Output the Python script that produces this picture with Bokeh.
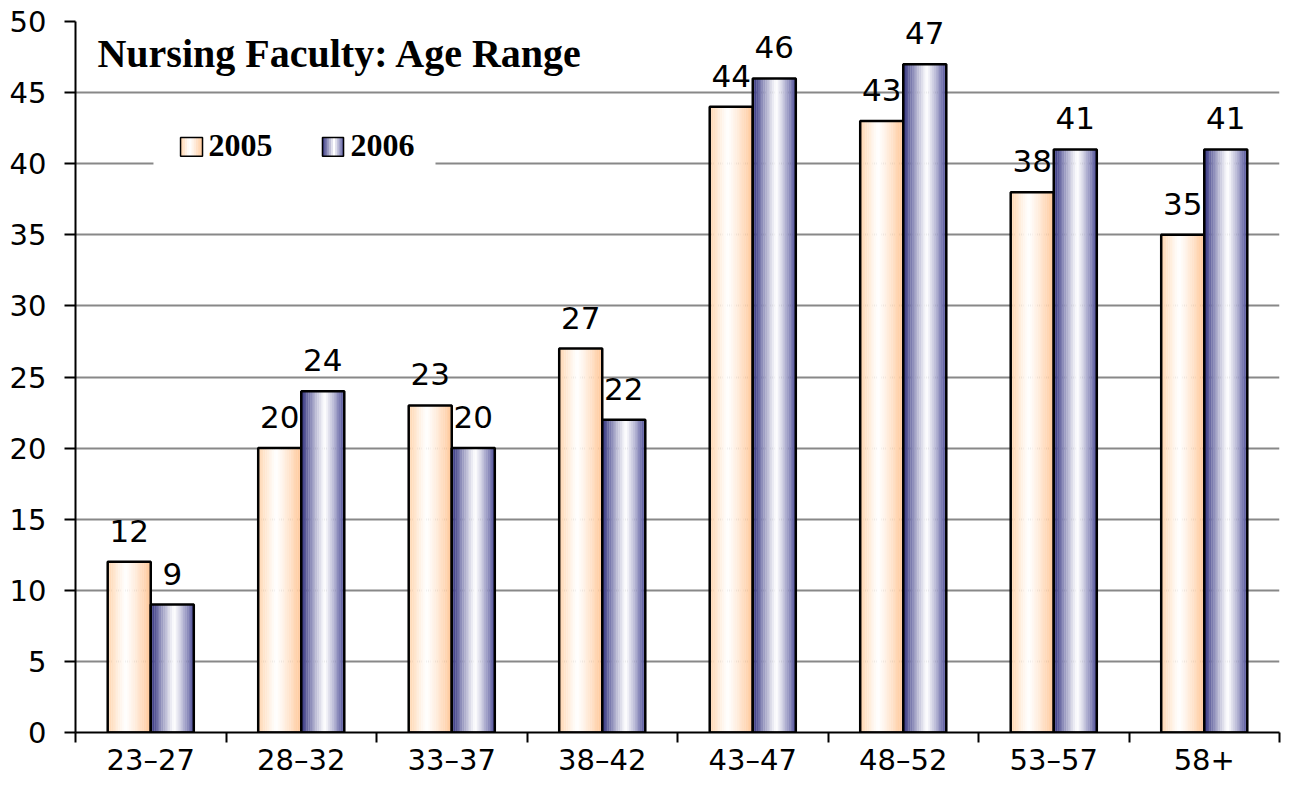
from bokeh.plotting import figure
from bokeh.models import (Range1d, FixedTicker, CustomJSTickFormatter, Label)
from bokeh.core.properties import value
from bokeh.embed import file_html
from bokeh.resources import INLINE

# ---------------- data ----------------
categories = ["23\u201327", "28\u201332", "33\u201337", "38\u201342",
              "43\u201347", "48\u201352", "53\u201357", "58+"]
series_names = ["2005", "2006"]
values_2005 = [12, 20, 23, 27, 44, 43, 38, 35]
values_2006 = [9, 24, 20, 22, 46, 47, 41, 41]
y_ticks = [0, 5, 10, 15, 20, 25, 30, 35, 40, 45, 50]
title_text = "Nursing Faculty: Age Range"

# ---------------- style ----------------
ORANGE_L, ORANGE_R, ORANGE_C = (255, 212, 172), (255, 198, 150), 0.42
BLUE_L, BLUE_R, BLUE_C = (44, 44, 124), (76, 76, 150), 0.55
N_STRIPS = 24
BAR_W = 0.286
NUM_FONT = "DejaVu Sans"
SERIF = "Liberation Serif"


def grad_color(u, left, right, c, pw=1.15):
    if u < c:
        w = ((c - u) / c) ** pw
        col = left
    else:
        w = ((u - c) / (1 - c)) ** pw
        col = right
    return "#%02x%02x%02x" % tuple(int(round(255 + (ci - 255) * w)) for ci in col)


p = figure(width=1283, height=779, output_backend="svg", toolbar_location=None,
           x_range=Range1d(0, len(categories)), y_range=Range1d(0, 50),
           min_border_left=75, min_border_right=4, min_border_top=21,
           min_border_bottom=46)
p.background_fill_color = "white"
p.border_fill_color = "white"
p.outline_line_color = None

# grid
p.xgrid.grid_line_color = None
p.ygrid.ticker = FixedTicker(ticks=y_ticks)
p.ygrid.grid_line_color = "#888888"
p.ygrid.grid_line_width = 2

# y axis
ya = p.yaxis[0]
ya.ticker = FixedTicker(ticks=y_ticks)
ya.axis_line_color = "black"
ya.axis_line_width = 2
ya.major_tick_line_color = "black"
ya.major_tick_line_width = 2
ya.major_tick_out = 11
ya.major_tick_in = 0
ya.minor_tick_line_color = None
ya.major_label_text_font = NUM_FONT
ya.major_label_text_font_size = "29px"
ya.major_label_text_color = "black"
ya.major_label_standoff = 18

# x axis: labels at category centres, ticks at category boundaries
xa = p.xaxis[0]
xa.ticker = FixedTicker(ticks=[i + 0.5 for i in range(len(categories))],
                        minor_ticks=list(range(len(categories) + 1)))
xa.formatter = CustomJSTickFormatter(args=dict(labels=categories), code="""
    const i = Math.floor(tick);
    return (i >= 0 && i < labels.length) ? labels[i] : "";
""")
xa.axis_line_color = "black"
xa.axis_line_width = 2
xa.major_tick_line_color = None
xa.major_tick_out = 0
xa.major_tick_in = 0
xa.minor_tick_line_color = "black"
xa.minor_tick_line_width = 2
xa.minor_tick_out = 10
xa.minor_tick_in = 0
xa.major_label_text_font = NUM_FONT
xa.major_label_text_font_size = "29px"
xa.major_label_text_color = "black"
xa.major_label_standoff = 0

# ---------------- bars with horizontal gradient ----------------
series = [(values_2005, -BAR_W / 2, ORANGE_L, ORANGE_R, ORANGE_C),
          (values_2006, BAR_W / 2, BLUE_L, BLUE_R, BLUE_C)]
sw = BAR_W / N_STRIPS
for vals, off, cl, cr, cc in series:
    centers = [i + 0.5 + off for i in range(len(vals))]
    for k in range(N_STRIPS):
        u = (k + 0.5) / N_STRIPS
        xs = [c - BAR_W / 2 + (k + 0.5) * sw for c in centers]
        p.vbar(x=xs, top=vals, bottom=0, width=sw * 1.15,
               fill_color=grad_color(u, cl, cr, cc), line_color=None)
    p.vbar(x=centers, top=vals, bottom=0, width=BAR_W,
           fill_color=None, line_color="black", line_width=2.5)
    p.text(x=centers, y=vals, text=[str(v) for v in vals],
           text_align="center", text_baseline="alphabetic", y_offset=-31,
           text_font=value(NUM_FONT), text_font_size="31px", text_color="black")

# ---------------- title ----------------
p.add_layout(Label(x=0.146, y=47.75, text=title_text, text_font=SERIF,
                   text_font_style="bold", text_font_size="40px",
                   text_color="black", text_baseline="alphabetic"))

# ---------------- legend (manual, to show gradient swatches) ----------------
p.quad(left=[0.518], right=[2.392], bottom=[39.19], top=[42.35],
       fill_color="white", line_color=None)
legend_slots = [(0.698, 0.844, 0.884, ORANGE_L, ORANGE_R, ORANGE_C),
                (1.641, 1.781, 1.827, BLUE_L, BLUE_R, BLUE_C)]
sw_top, sw_bot = 41.85, 40.52
for (x0, x1, tx, cl, cr, cc), name in zip(legend_slots, series_names):
    n = 10
    w = (x1 - x0) / n
    p.quad(left=[x0 + k * w for k in range(n)],
           right=[x0 + (k + 1) * w + w * 0.15 if k < n - 1 else x1 for k in range(n)],
           bottom=[sw_bot] * n, top=[sw_top] * n,
           fill_color=[grad_color((k + 0.5) / n, cl, cr, cc) for k in range(n)],
           line_color=None)
    p.quad(left=[x0], right=[x1], bottom=[sw_bot], top=[sw_top],
           fill_color=None, line_color="black", line_width=1.5)
    p.add_layout(Label(x=tx, y=sw_bot + 0.77, text=name, text_font=SERIF,
                       text_font_style="bold", text_font_size="32px",
                       text_color="black", text_baseline="alphabetic"))

open("out.html", "w").write(file_html(p, INLINE))
